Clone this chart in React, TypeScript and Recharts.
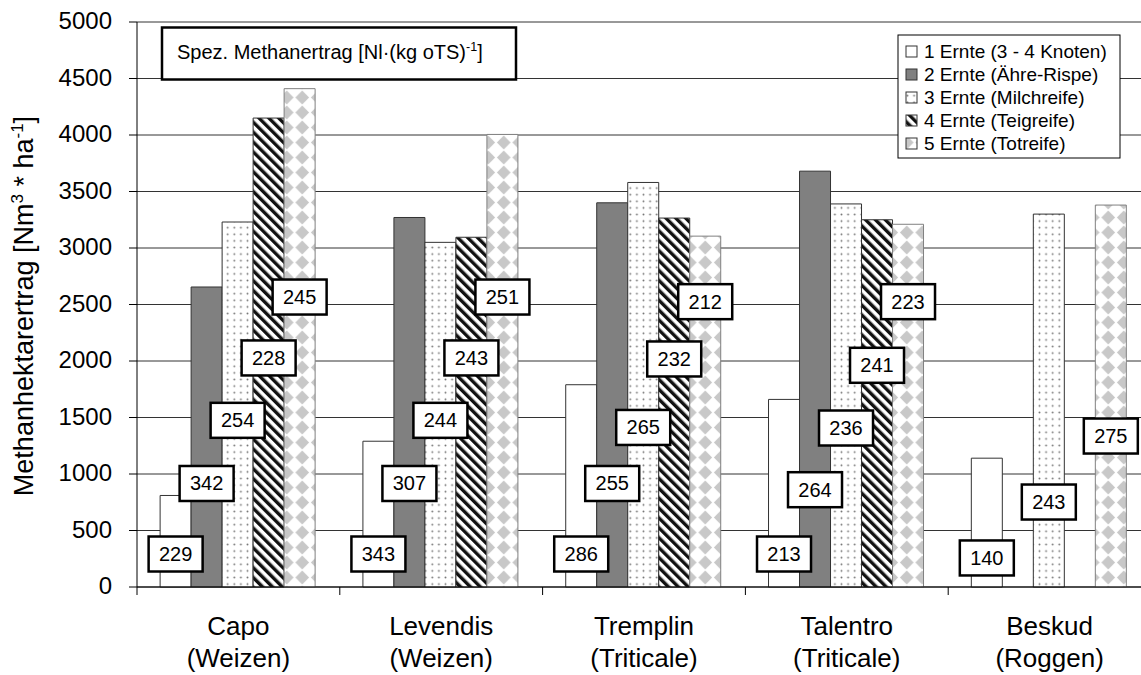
import React from 'react';
import { BarChart, Bar, XAxis, YAxis, CartesianGrid, LabelList } from 'recharts';

// ---- data ----
const categories = ['Capo', 'Levendis', 'Tremplin', 'Talentro', 'Beskud'];
const varieties = ['(Weizen)', '(Weizen)', '(Triticale)', '(Triticale)', '(Roggen)'];
const seriesNames = [
  '1 Ernte (3 - 4 Knoten)',
  '2 Ernte (Ähre-Rispe)',
  '3 Ernte (Milchreife)',
  '4 Ernte (Teigreife)',
  '5 Ernte (Totreife)',
];
// Methanhektarertrag [Nm3/ha]
const ernte1 = [810, 1290, 1790, 1660, 1140];
const ernte2 = [2655, 3270, 3400, 3680, null];
const ernte3 = [3230, 3050, 3580, 3390, 3300];
const ernte4 = [4150, 3095, 3265, 3250, null];
const ernte5 = [4410, 4005, 3105, 3210, 3380];
// Spez. Methanertrag [Nl/kg oTS] (box labels)
const spez1 = [229, 343, 286, 213, 140];
const spez2 = [342, 307, 255, 264, null];
const spez3 = [254, 244, 265, 236, 243];
const spez4 = [228, 243, 232, 241, null];
const spez5 = [245, 251, 212, 223, 275];
// height (axis units) at which each box label sits
const spezAt1 = [292, 292, 292, 292, 257];
const spezAt2 = [916, 916, 916, 861, null];
const spezAt3 = [1475, 1475, 1412, 1407, 752];
const spezAt4 = [2027, 2027, 2018, 1962, null];
const spezAt5 = [2566, 2566, 2525, 2525, 1336];
const yTicks = [0, 500, 1000, 1500, 2000, 2500, 3000, 3500, 4000, 4500, 5000];

const FONT = 'Arial, "Liberation Sans", Helvetica, sans-serif';

const CHART_W = 1155;
const CHART_H = 675;
const MARGIN = { top: 22, right: 4, bottom: 0, left: 0 };
const Y_W = 137;
const X_H = 88;
const PLOT_W = CHART_W - MARGIN.left - MARGIN.right - Y_W;
const BAND = PLOT_W / categories.length;

const data = categories.map((c, i) => ({
  name: c,
  e1: ernte1[i], e2: ernte2[i], e3: ernte3[i], e4: ernte4[i], e5: ernte5[i],
  s1: spez1[i], s2: spez2[i], s3: spez3[i], s4: spez4[i], s5: spez5[i],
  a1: spezAt1[i], a2: spezAt2[i], a3: spezAt3[i], a4: spezAt4[i], a5: spezAt5[i],
}));

const series = [
  { key: 'e1', s: 's1', a: 'a1', fill: '#ffffff', stroke: '#333' },
  { key: 'e2', s: 's2', a: 'a2', fill: '#808080', stroke: '#333' },
  { key: 'e3', s: 's3', a: 'a3', fill: 'url(#patDots)', stroke: '#333' },
  { key: 'e4', s: 's4', a: 'a4', fill: 'url(#patDiag)', stroke: '#333' },
  { key: 'e5', s: 's5', a: 'a5', fill: 'url(#patDiamond)', stroke: '#808080' },
];

const Patterns = () => (
  <svg width={0} height={0} style={{ position: 'absolute' }}>
    <defs>
      <pattern id="patDots" patternUnits="userSpaceOnUse" width={6.6} height={6.6}>
        <rect width={6.6} height={6.6} fill="#fff" />
        <circle cx={3.3} cy={3.3} r={0.95} fill="#777" />
      </pattern>
      <pattern id="patDiag" patternUnits="userSpaceOnUse" width={7} height={7} patternTransform="rotate(-45)">
        <rect width={7} height={7} fill="#fff" />
        <rect width={3.4} height={7} fill="#111" />
      </pattern>
      <pattern id="patDiamond" patternUnits="userSpaceOnUse" width={15.5} height={15}>
        <rect width={15.5} height={15} fill="#fff" />
        <polygon points="7.75,0.6 14.6,7.5 7.75,14.4 0.9,7.5" fill="#c8c8c8" />
      </pattern>
    </defs>
  </svg>
);

const XTick = (props: any) => {
  const { x, y, payload } = props;
  const i = categories.indexOf(payload.value);
  const left = x - BAND / 2;
  return (
    <g>
      <line x1={left} y1={y} x2={left} y2={y + 8} stroke="#000" strokeWidth={1} />
      {i === categories.length - 1 && (
        <line x1={x + BAND / 2} y1={y} x2={x + BAND / 2} y2={y + 8} stroke="#000" strokeWidth={1} />
      )}
      <text x={x} y={y + 48} textAnchor="middle" fontSize={26} fontFamily={FONT} fill="#000">
        {payload.value}
      </text>
      <text x={x} y={y + 80} textAnchor="middle" fontSize={26} fontFamily={FONT} fill="#000">
        {varieties[i]}
      </text>
    </g>
  );
};

const YTick = (props: any) => {
  const { x, y, payload } = props;
  return (
    <text x={x} y={y} dy={7} textAnchor="end" fontSize={24} fontFamily={FONT} fill="#000">
      {payload.value}
    </text>
  );
};

const SpezBox = (props: any) => {
  const vb = props.viewBox ?? props;
  const { x, y, width } = vb;
  const value = props.value;
  if (value == null || x == null || y == null) return null;
  const cx = x + width / 2;
  const cy = y;
  return (
    <g>
      <rect x={cx - 27} y={cy - 17.5} width={54} height={35} fill="#fff" stroke="#000" strokeWidth={2.5} />
      <text x={cx} y={cy + 7} textAnchor="middle" fontSize={20} fontFamily={FONT} fill="#000">
        {value}
      </text>
    </g>
  );
};

const Overlay = () => {
  const legendX = 898;
  const legendY = 35;
  const rowY0 = 51.5;
  const rowStep = 23;
  const swatchFills = series.map((s) => s.fill);
  return (
    <svg
      width={1141}
      height={675}
      style={{ position: 'absolute', left: 0, top: 0, pointerEvents: 'none' }}
    >
      {/* Y axis title */}
      <text
        x={33}
        y={306}
        transform="rotate(-90 33 306)"
        textAnchor="middle"
        fontSize={27}
        fontFamily={FONT}
        fill="#000"
      >
        Methanhektarertrag [Nm
        <tspan fontSize={17} dy={-10}>3</tspan>
        <tspan dy={10}> * ha</tspan>
        <tspan fontSize={17} dy={-10}>-1</tspan>
        <tspan dy={10}>]</tspan>
      </text>
      {/* annotation box */}
      <rect x={162} y={27.5} width={354} height={52} fill="#fff" stroke="#000" strokeWidth={2.5} />
      <text x={177} y={59} fontSize={20} fontFamily={FONT} fill="#000">
        Spez. Methanertrag [Nl·(kg oTS)
        <tspan fontSize={12.5} dy={-8}>-1</tspan>
        <tspan dy={8}>]</tspan>
      </text>
      {/* legend */}
      <rect x={legendX} y={legendY} width={222} height={123} fill="#fff" stroke="#000" strokeWidth={1} />
      {seriesNames.map((n, i) => {
        const cy = rowY0 + i * rowStep;
        return (
          <g key={n}>
            <rect x={906} y={cy - 5.5} width={11} height={11} fill={swatchFills[i]} stroke="#333" strokeWidth={1} />
            <text x={924} y={cy + 6.5} fontSize={19} fontFamily={FONT} fill="#000">
              {n}
            </text>
          </g>
        );
      })}
    </svg>
  );
};

export default function App() {
  return (
    <div
      style={{
        position: 'absolute',
        left: 0,
        top: 0,
        width: 1141,
        height: 675,
        overflow: 'hidden',
        background: '#fff',
      }}
    >
      <Patterns />
      <div style={{ position: 'absolute', left: 0, top: 0 }}>
        <BarChart
          width={CHART_W}
          height={CHART_H}
          data={data}
          margin={MARGIN}
          barCategoryGap="11.4%"
          barGap={0}
        >
          <CartesianGrid horizontal vertical={false} stroke="#333" strokeWidth={1} />
          <XAxis
            dataKey="name"
            height={X_H}
            tickLine={false}
            tickSize={0}
            tickMargin={0}
            axisLine={{ stroke: '#000', strokeWidth: 1 }}
            tick={<XTick />}
            interval={0}
          />
          <YAxis
            width={Y_W}
            domain={[0, 5000]}
            ticks={yTicks}
            interval={0}
            tickSize={8}
            tickMargin={17}
            axisLine={{ stroke: '#000', strokeWidth: 1 }}
            tickLine={{ stroke: '#000', strokeWidth: 1 }}
            tick={<YTick />}
          />
          {series.map((s) => (
            <Bar
              key={s.key}
              dataKey={s.key}
              fill={s.fill}
              stroke={s.stroke}
              strokeWidth={1}
              isAnimationActive={false}
            />
          ))}
        </BarChart>
      </div>
      {/* label layer: same layout, invisible bars at label heights */}
      <div style={{ position: 'absolute', left: 0, top: 0 }}>
        <BarChart
          width={CHART_W}
          height={CHART_H}
          data={data}
          margin={MARGIN}
          barCategoryGap="11.4%"
          barGap={0}
        >
          <XAxis dataKey="name" height={X_H} tick={false} tickLine={false} axisLine={false} />
          <YAxis width={Y_W} domain={[0, 5000]} ticks={yTicks} tick={false} tickLine={false} axisLine={false} />
          {series.map((s) => (
            <Bar key={s.a} dataKey={s.a} fill="none" stroke="none" isAnimationActive={false}>
              <LabelList dataKey={s.s} content={<SpezBox />} />
            </Bar>
          ))}
        </BarChart>
      </div>
      <Overlay />
    </div>
  );
}
